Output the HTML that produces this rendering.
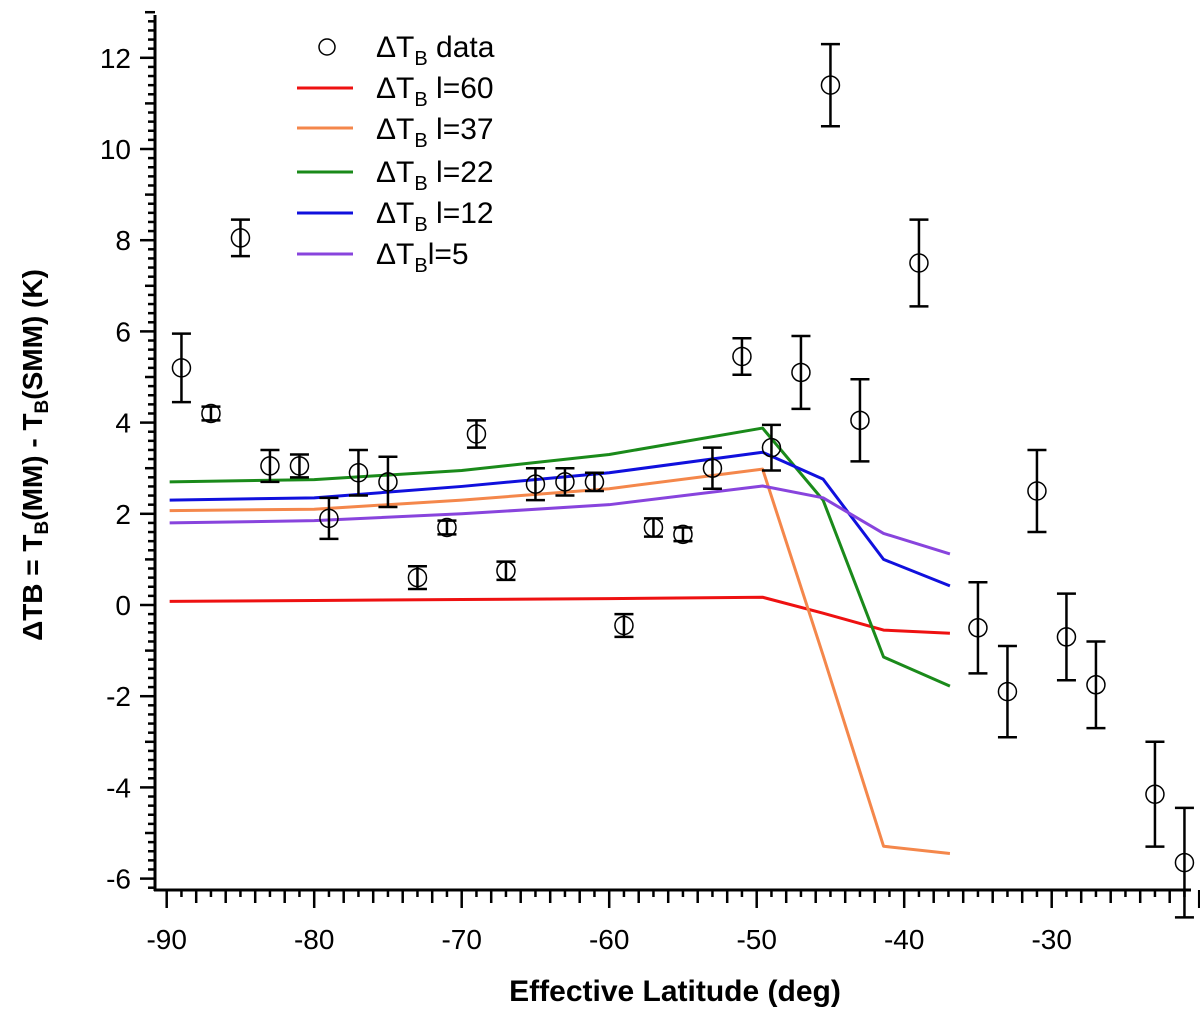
<!DOCTYPE html>
<html><head><meta charset="utf-8"><style>
html,body{margin:0;padding:0;background:#fff;}
svg{display:block;font-family:"Liberation Sans",Arial,sans-serif;}
</style></head><body>
<svg id="chart" width="1200" height="1017" viewBox="0 0 1200 1017" xmlns="http://www.w3.org/2000/svg">
<g id="axes"></g>
<g id="models"></g>
<g id="points"></g>
<g id="legend">
  <circle cx="327" cy="47" r="8" fill="none" stroke="#000" stroke-width="1.5"/>
  <text x="376" y="57" font-size="30">ΔT<tspan font-size="20" dy="8">B</tspan><tspan dy="-8"> data</tspan></text>
  <line x1="297" y1="88" x2="353" y2="88" stroke="#ee1111" stroke-width="3"/>
  <text x="376" y="98" font-size="30">ΔT<tspan font-size="20" dy="8">B</tspan><tspan dy="-8"> l=60</tspan></text>
  <line x1="297" y1="128" x2="353" y2="128" stroke="#f4874b" stroke-width="3"/>
  <text x="376" y="139" font-size="30">ΔT<tspan font-size="20" dy="8">B</tspan><tspan dy="-8"> l=37</tspan></text>
  <line x1="297" y1="172" x2="353" y2="172" stroke="#1a8a1a" stroke-width="3"/>
  <text x="376" y="182" font-size="30">ΔT<tspan font-size="20" dy="8">B</tspan><tspan dy="-8"> l=22</tspan></text>
  <line x1="297" y1="213" x2="353" y2="213" stroke="#1010dd" stroke-width="3"/>
  <text x="376" y="223" font-size="30">ΔT<tspan font-size="20" dy="8">B</tspan><tspan dy="-8"> l=12</tspan></text>
  <line x1="297" y1="254" x2="353" y2="254" stroke="#8844dd" stroke-width="3"/>
  <text x="376" y="264" font-size="30">ΔT<tspan font-size="20" dy="8">B</tspan><tspan dy="-8">l=5</tspan></text>
</g>
<text x="675" y="1001" font-size="30" font-weight="bold" text-anchor="middle">Effective Latitude (deg)</text>
<text transform="translate(42,455) rotate(-90)" font-size="28" font-weight="bold" text-anchor="middle">ΔTB = T<tspan font-size="19" dy="6">B</tspan><tspan dy="-6">(MM) - T</tspan><tspan font-size="19" dy="6">B</tspan><tspan dy="-6">(SMM) (K)</tspan></text>
</svg>
<script>
const dataLat = [-89,-87,-85,-83,-81,-79,-77,-75,-73,-71,-69,-67,-65,-63,-61,-59,-57,-55,-53,-51,-49,-47,-45,-43,-39,-35,-33,-31,-29,-27,-23,-21];
const dataVal = [5.2,4.2,8.05,3.05,3.05,1.9,2.9,2.7,0.6,1.7,3.75,0.75,2.65,2.7,2.7,-0.45,1.7,1.55,3.0,5.45,3.45,5.1,11.4,4.05,7.5,-0.5,-1.9,2.5,-0.7,-1.75,-4.15,-5.65];
const dataErr = [0.75,0.15,0.4,0.35,0.25,0.45,0.5,0.55,0.25,0.15,0.3,0.2,0.35,0.3,0.2,0.25,0.2,0.15,0.45,0.4,0.5,0.8,0.9,0.9,0.95,1.0,1.0,0.9,0.95,0.95,1.15,1.2];
const modelLat = [-89.8,-80,-70,-60,-49.6,-45.5,-41.4,-36.9];
const modelL60 = [0.08,0.1,0.12,0.14,0.17,-0.18,-0.55,-0.62];
const modelL37 = [2.07,2.1,2.3,2.55,2.98,-1.1,-5.29,-5.45];
const modelL22 = [2.7,2.75,2.95,3.3,3.88,2.3,-1.14,-1.78];
const modelL12 = [2.3,2.35,2.6,2.9,3.35,2.76,1.0,0.42];
const modelL5 = [1.8,1.85,2.0,2.2,2.61,2.35,1.57,1.12];
const xTicks = [-90,-80,-70,-60,-50,-40,-30];
const yTicks = [-6,-4,-2,0,2,4,6,8,10,12];

const NS="http://www.w3.org/2000/svg";
function X(l){return 166.7+(l+90)*14.75;}
function Y(v){return 605-v*45.6;}
function mk(tag,attrs,parent){const e=document.createElementNS(NS,tag);for(const k in attrs)e.setAttribute(k,attrs[k]);parent.appendChild(e);return e;}
const axes=document.getElementById('axes');
let a=mk('line',{x1:155,y1:15,x2:155,y2:891,stroke:'#000','stroke-width':3},axes);


a=mk('line',{x1:154,y1:890,x2:1191,y2:890,stroke:'#000','stroke-width':3},axes);


for(let v=-6.2;v<=13.01;v+=0.2){
  const major=Math.abs(v/2-Math.round(v/2))<0.01;
  const mid=!major&&Math.abs(v-Math.round(v))<0.01;
  const t=mk('line',{x1:major?140:(mid?145:148),x2:155,y1:Y(v),y2:Y(v),stroke:'#000','stroke-width':2.5},axes);
  
  
}
yTicks.forEach(v=>{
  const t=mk('text',{x:131,y:Y(v)+10,'font-size':28,'text-anchor':'end'},axes);
  t.textContent=String(v);
  
  
});
for(let l=-90;l<=-20;l+=1){
  const major=l%10===0;
  const even=l%2===0;
  const t=mk('line',{x1:X(l),x2:X(l),y1:890,y2:major?908:(even?903:897),stroke:'#000','stroke-width':2.5},axes);
  
  
}
xTicks.forEach(l=>{
  const t=mk('text',{x:X(l),y:949,'font-size':28,'text-anchor':'middle'},axes);
  t.textContent=String(l);
  
  
});
const models=document.getElementById('models');
[[modelL60,'#ee1111','model-line-l60'],[modelL37,'#f4874b','model-line-l37'],[modelL22,'#1a8a1a','model-line-l22'],[modelL12,'#1010dd','model-line-l12'],[modelL5,'#8844dd','model-line-l5']].forEach(s=>{
  const p=mk('polyline',{points:modelLat.map((l,i)=>X(l)+','+Y(s[0][i])).join(' '),fill:'none',stroke:s[1],'stroke-width':3,'stroke-linejoin':'round'},models);
  
  
});
const pts=document.getElementById('points');
dataLat.forEach((l,i)=>{
  const x=X(l),y=Y(dataVal[i]),y1=Y(dataVal[i]+dataErr[i]),y2=Y(dataVal[i]-dataErr[i]);
  const g=mk('g',{},pts);
  
  
  mk('line',{x1:x,x2:x,y1:y1,y2:y2,stroke:'#000','stroke-width':2.5},g);
  mk('line',{x1:x-9.5,x2:x+9.5,y1:y1,y2:y1,stroke:'#000','stroke-width':2.5},g);
  mk('line',{x1:x-9.5,x2:x+9.5,y1:y2,y2:y2,stroke:'#000','stroke-width':2.5},g);
  mk('circle',{cx:x,cy:y,r:9,fill:'none',stroke:'#000','stroke-width':1.5},g);
});
</script>
</body></html>
